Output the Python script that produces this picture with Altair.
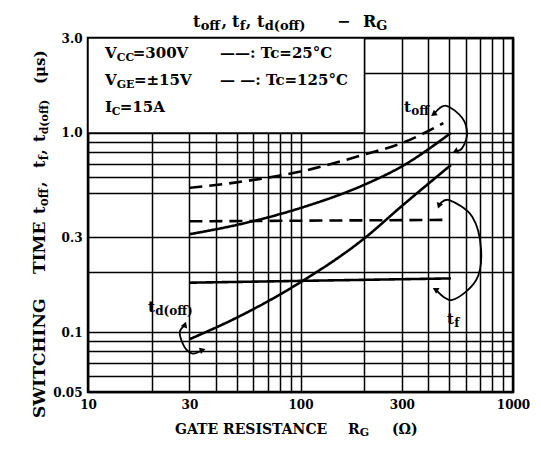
import altair as alt
import pandas as pd

FONT = "DejaVu Serif"

# ---------- values ----------
rg_toff_25 = [30, 50, 100, 200, 300, 510]
toff_25 = [0.31, 0.345, 0.42, 0.55, 0.68, 1.0]
rg_toff_125 = [30, 50, 100, 200, 300, 470]
toff_125 = [0.53, 0.565, 0.64, 0.78, 0.89, 1.12]
rg_tf_25 = [30, 510]
tf_25 = [0.177, 0.186]
rg_tf_125 = [30, 470]
tf_125 = [0.36, 0.366]
rg_td_25 = [30, 50, 100, 200, 300, 510]
td_25 = [0.092, 0.118, 0.178, 0.296, 0.43, 0.69]

# leader loops pointing at the curve groups
loop_toff_rg = [426, 484, 577, 608, 577, 540]
loop_toff_t = [1.25, 1.37, 1.19, 0.99, 0.84, 0.81]
loop_tf_rg = [450, 501, 643, 708, 670, 518, 435]
loop_tf_t = [0.435, 0.46, 0.38, 0.258, 0.182, 0.145, 0.163]
loop_td_rg = [28.5, 27.0, 28.5, 31.1, 34.3]
loop_td_t = [0.108, 0.099, 0.084, 0.078, 0.081]

x_grid = [10, 20, 30, 40, 50, 60, 70, 80, 90, 100, 200, 300, 400, 500, 600, 700, 800, 900, 1000]
y_grid = [0.05, 0.06, 0.07, 0.08, 0.09, 0.1, 0.2, 0.3, 0.5, 0.6, 0.7, 0.8, 0.9, 1, 2, 3]
x_labels = [10, 30, 100, 300, 1000]
y_labels = [3, 1, 0.3, 0.1, 0.05]
y_label_text = ["3.0", "1.0", "0.3", "0.1", "0.05"]

box_rg = [10, 200]
box_t = [1.0, 3.0]

# ---------- tables ----------
rows = []
for name, temp, xs_, ys_ in [
    ("toff", "25", rg_toff_25, toff_25),
    ("toff", "125", rg_toff_125, toff_125),
    ("tf", "25", rg_tf_25, tf_25),
    ("tf", "125", rg_tf_125, tf_125),
    ("td", "25", rg_td_25, td_25),
]:
    for i, (a, b) in enumerate(zip(xs_, ys_)):
        rows.append(dict(curve=name + temp, temp=temp, rg=a, t=b, i=i))
curves = pd.DataFrame(rows)

lrows = []
for name, xs_, ys_ in [("toff", loop_toff_rg, loop_toff_t),
                       ("tf", loop_tf_rg, loop_tf_t),
                       ("td", loop_td_rg, loop_td_t)]:
    for i, (a, b) in enumerate(zip(xs_, ys_)):
        lrows.append(dict(loop=name, rg=a, t=b, i=i))
loops = pd.DataFrame(lrows)

box = pd.DataFrame({"rg": [box_rg[0]], "rg2": [box_rg[1]], "t": [box_t[0]], "t2": [box_t[1]]})

xs = alt.Scale(type="log", domain=[10, 1000], nice=False)
ys = alt.Scale(type="log", domain=[0.05, 3], nice=False)

x_expr = "indexof(%s, datum.value) >= 0 ? format(datum.value, 'd') : ''" % str(x_labels)
y_expr = " : ".join("abs(datum.value - %s) < 1e-9 ? '%s'" % (v, s) for v, s in zip(y_labels, y_label_text)) + " : ''"

xaxis = alt.Axis(values=x_grid, labelExpr=x_expr, title=None, ticks=False, domain=False,
                 grid=True, gridColor="black", gridWidth=1.5, gridOpacity=1,
                 labelOverlap=False, labelFlush=False, labelPadding=7)
yaxis = alt.Axis(values=y_grid, labelExpr=y_expr, title=None, ticks=False, domain=False,
                 grid=True, gridColor="black", gridWidth=1.5, gridOpacity=1,
                 labelOverlap=False, labelFlush=False, labelPadding=6)


def X(f="rg"):
    return alt.X(f + ":Q", scale=xs, axis=xaxis)


def Y(f="t"):
    return alt.Y(f + ":Q", scale=ys, axis=yaxis)


layers = []

layers.append(alt.Chart(box).mark_rect(fill="white", stroke="black", strokeWidth=1.5).encode(
    x=X(), x2="rg2:Q", y=Y(), y2="t2:Q"))

layers.append(alt.Chart(curves).mark_line(color="black", strokeWidth=2.6, interpolate="monotone").encode(
    x=X(), y=Y(), detail="curve:N", order="i:Q",
    strokeDash=alt.StrokeDash("temp:N", scale=alt.Scale(domain=["25", "125"], range=[[1, 0], [13, 7]]),
                              legend=None)))

layers.append(alt.Chart(loops).mark_line(color="black", strokeWidth=1.8, interpolate="cardinal").encode(
    x=X(), y=Y(), detail="loop:N", order="i:Q"))

# arrow heads at the loop ends
for xs_, ys_, idx, ang in [(loop_toff_rg, loop_toff_t, 0, 235), (loop_toff_rg, loop_toff_t, -1, 245),
                           (loop_tf_rg, loop_tf_t, 0, 200), (loop_tf_rg, loop_tf_t, -1, 300),
                           (loop_td_rg, loop_td_t, 0, 20), (loop_td_rg, loop_td_t, -1, 72)]:
    d = pd.DataFrame({"rg": [xs_[idx]], "t": [ys_[idx]]})
    layers.append(alt.Chart(d).mark_point(shape="triangle", filled=True, color="black", opacity=1,
                                          size=45, angle=ang).encode(x=X(), y=Y()))

# ---------- rich text helpers ----------
W = {" ": .348, "0": .696, "1": .696, "2": .696, "3": .696, "5": .696, ".": .381, ",": .381, ":": .404,
     "=": .838, "±": .838, "(": .457, ")": .457, "A": .776, "C": .732, "E": .748, "G": .82, "H": .94,
     "I": .449, "M": 1.052, "N": .919, "R": .834, "S": .717, "T": .747, "V": .776, "W": 1.13,
     "c": .596, "d": .686, "f": .47, "o": .668, "t": .479, "s": .594, "°": .512, "—": 1.0, "−": .838,
     "Ω": .81, "μ": .711}


def tw(s, size):
    return sum(W.get(c, .65) for c in s) * size


one = pd.DataFrame({"k": [0]})
OX, OY = 88, 38  # page position of the plot origin


def rich(pieces, px, py, angle=0):
    out = []
    adv = 0.0
    for txt, size, shift in pieces:
        out.append(alt.Chart(one).mark_text(
            text=txt, font=FONT, fontWeight="bold", fontSize=size, color="black",
            align="left", baseline="alphabetic", dx=adv, dy=shift, angle=angle
        ).encode(x=alt.value(px - OX), y=alt.value(py - OY)))
        adv += tw(txt, size)
    return out


M, S, D = 15, 11, 3

# title
layers += rich([("t", 16, 0), ("off", 13, D), (",", 16, 0)], 193, 27)
layers += rich([("t", 16, 0), ("f", 13, D), (",", 16, 0)], 232, 27)
layers += rich([("t", 16, 0), ("d(off)", 13, D)], 257, 27)
layers += rich([("−", 16, 0)], 337, 27)
layers += rich([("R", 16, 0), ("G", 13, D)], 363, 27)

# condition box
layers += rich([("V", M, 0), ("CC", S, D), ("=300V", M, 0)], 105, 58)
layers += rich([("V", M, 0), ("GE", S, D), ("=±15V", M, 0)], 105, 85)
layers += rich([("I", M, 0), ("C", S, D), ("=15A", M, 0)], 105, 112)
layers += rich([("——: Tc=25°C", M, 0)], 220, 58)
layers += rich([("— —: Tc=125°C", M, 0)], 220, 85)

# curve labels
layers += rich([("t", 15, 0), ("off", 12, D)], 404, 112)
layers += rich([("t", 15, 0), ("f", 12, D)], 447, 324)
layers += rich([("t", 15, 0), ("d(off)", 12, D)], 148, 312)

# x axis title
layers += rich([("GATE RESISTANCE", 14, 0)], 175, 434)
layers += rich([("R", 14, 0), ("G", 11, 2)], 348, 434)
layers += rich([("(Ω)", 14, 0)], 392, 434)

# y axis title (rotated)
layers += rich([("SWITCHING", 17, 0)], 45, 418, angle=270)
layers += rich([("TIME", 17, 0)], 45, 274, angle=270)
layers += rich([("t", 16, 0), ("off", 12, D), (",", 16, 0)], 45, 214, angle=270)
layers += rich([("t", 16, 0), ("f", 12, D), (",", 16, 0)], 45, 168, angle=270)
layers += rich([("t", 16, 0), ("d(off)", 11, D)], 45, 142, angle=270)
layers += rich([("(μs)", 15, 0)], 45, 84, angle=270)

chart = alt.layer(*layers).properties(
    width=425, height=354,
    padding={"left": 80, "top": 30, "right": 20, "bottom": 49},
    autosize=alt.AutoSizeParams(type="none"),
    background="white",
).configure_view(stroke="black", strokeWidth=2.5).configure_axis(
    labelFont=FONT, labelFontWeight="bold", labelFontSize=12, labelColor="black"
)

chart.save("out.html", embed_options={"renderer": "svg", "actions": False})
